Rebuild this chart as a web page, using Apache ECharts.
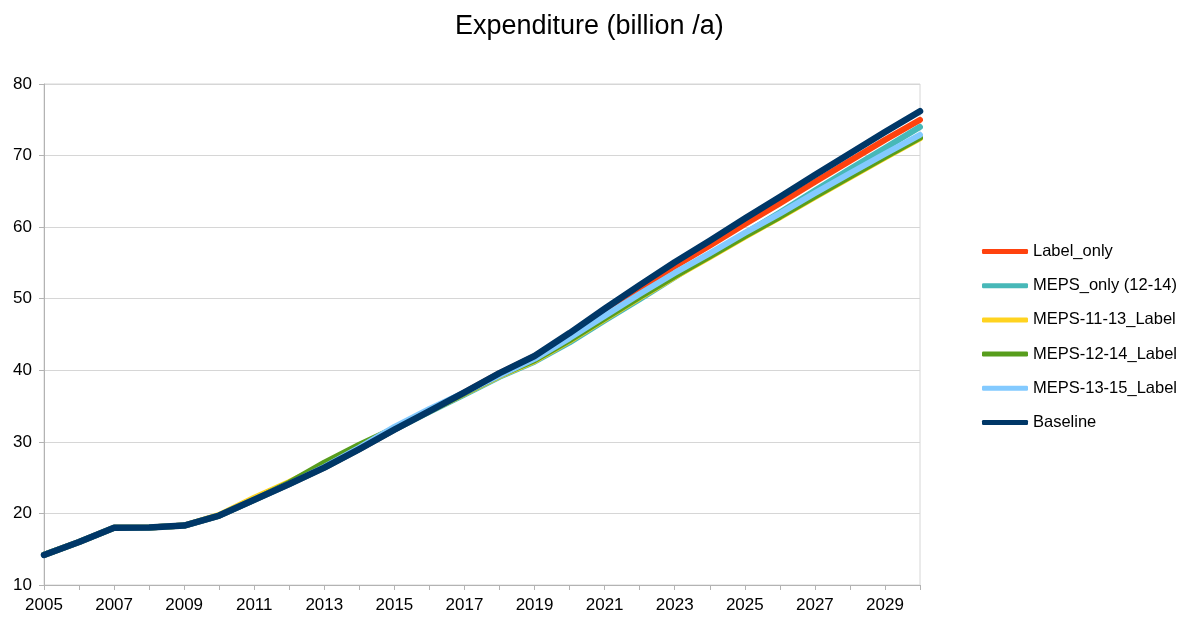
<!DOCTYPE html>
<html>
<head>
<meta charset="utf-8">
<script src="https://cdn.jsdelivr.net/npm/echarts@6/dist/echarts.min.js"></script>
<style>
  html, body { margin: 0; padding: 0; background: #fff; }
  #chart { width: 1184px; height: 619px; }
</style>
</head>
<body>
<div id="chart"></div>
<script>
// Years on the horizontal axis
const years = [2005, 2006, 2007, 2008, 2009, 2010, 2011, 2012, 2013, 2014, 2015, 2016, 2017,
               2018, 2019, 2020, 2021, 2022, 2023, 2024, 2025, 2026, 2027, 2028, 2029, 2030];

// Expenditure per scenario, billion per year
const labelOnly = [14.2, 16.0, 18.0, 18.05, 18.3, 19.7, 21.9, 24.1, 26.4, 29.0, 31.7, 34.3, 36.9,
                   39.6, 41.95, 45.05, 48.3, 51.45, 54.5, 57.4, 60.4, 63.3, 66.3, 69.25, 72.2, 75.0];
const mepsOnly = [14.2, 16.0, 18.0, 18.05, 18.3, 19.7, 21.9, 24.1, 26.4, 29.0, 31.7, 34.2, 36.6,
                  39.1, 41.2, 43.9, 46.95, 49.95, 53.0, 56.1, 59.1, 62.05, 65.1, 68.1, 71.05, 74.0];
const meps1113 = [14.2, 16.0, 18.0, 18.05, 18.3, 19.8, 22.2, 24.4, 26.8, 29.3, 31.8, 34.3, 36.75,
                  39.2, 41.3, 44.1, 47.15, 50.15, 53.05, 55.8, 58.65, 61.35, 64.2, 66.95, 69.7, 72.4];
const meps1214 = [14.2, 16.0, 18.0, 18.05, 18.3, 19.7, 21.9, 24.3, 27.1, 29.6, 31.9, 34.3, 36.8,
                  39.3, 41.4, 44.2, 47.25, 50.25, 53.15, 55.9, 58.75, 61.45, 64.3, 67.05, 69.8, 72.5];
const meps1315 = [14.2, 16.0, 18.0, 18.05, 18.3, 19.7, 21.9, 24.1, 26.5, 29.2, 32.1, 34.6, 36.9,
                  39.3, 41.6, 44.5, 47.6, 50.65, 53.6, 56.35, 59.2, 61.9, 64.75, 67.5, 70.25, 72.9];
const baseline = [14.2, 16.0, 18.0, 18.05, 18.3, 19.7, 21.9, 24.1, 26.4, 29.0, 31.7, 34.3, 36.9,
                  39.6, 42.0, 45.2, 48.6, 51.9, 55.1, 58.1, 61.2, 64.2, 67.3, 70.3, 73.3, 76.2];

// Value-axis ticks
const yTicks = [10, 20, 30, 40, 50, 60, 70, 80];

const scenarios = [
  { name: 'Label_only', values: labelOnly, color: '#ff420e', width: 6 },
  { name: 'MEPS_only (12-14)', values: mepsOnly, color: '#47b8b8', width: 6 },
  { name: 'MEPS-11-13_Label', values: meps1113, color: '#ffd320', width: 6 },
  { name: 'MEPS-12-14_Label', values: meps1214, color: '#579d1c', width: 6 },
  { name: 'MEPS-13-15_Label', values: meps1315, color: '#83caff', width: 6 },
  { name: 'Baseline', values: baseline, color: '#003767', width: 6.5 }
];

const font = 'Liberation Sans, Arial, sans-serif';
const chart = echarts.init(document.getElementById('chart'), null, { renderer: 'canvas' });

chart.setOption({
  backgroundColor: '#ffffff',
  animation: false,
  title: {
    text: 'Expenditure (billion /a)',
    left: 450,
    top: 8,
    textStyle: { fontFamily: font, fontSize: 27, fontWeight: 'normal', color: '#000' }
  },
  legend: {
    orient: 'vertical',
    left: 982,
    top: 243,
    padding: 0,
    itemWidth: 46,
    itemHeight: 5,
    itemGap: 17.2,
    icon: 'roundRect',
    textStyle: { fontFamily: font, fontSize: 16.5, color: '#000', lineHeight: 16 },
    data: scenarios.map(s => s.name)
  },
  grid: {
    left: 44, right: 264, top: 84, bottom: 34,
    show: true, borderColor: '#d6d6d6', borderWidth: 1, containLabel: false
  },
  xAxis: {
    type: 'value',
    min: years[0],
    max: years[years.length - 1],
    interval: 1,
    axisLine: { lineStyle: { color: '#b3b3b3', width: 1 } },
    axisTick: { show: true, length: 5, lineStyle: { color: '#b3b3b3' } },
    splitLine: { show: false },
    axisLabel: {
      fontFamily: font, fontSize: 17, color: '#000', margin: 12,
      formatter: v => (v % 2 === 1 ? String(v) : '')
    }
  },
  yAxis: {
    type: 'value',
    min: yTicks[0],
    max: yTicks[yTicks.length - 1],
    interval: 10,
    axisLine: { show: true, lineStyle: { color: '#b3b3b3', width: 1 } },
    axisTick: { show: true, length: 5, lineStyle: { color: '#b3b3b3' } },
    splitLine: { lineStyle: { color: '#d6d6d6', width: 1 } },
    axisLabel: { fontFamily: font, fontSize: 17, color: '#000', margin: 12 }
  },
  series: scenarios.map(s => ({
    name: s.name,
    type: 'line',
    symbol: 'none',
    smooth: false,
    color: s.color,
    lineStyle: { color: s.color, width: s.width, cap: 'round', join: 'round' },
    itemStyle: { color: s.color },
    data: years.map((y, i) => [y, s.values[i]])
  }))
});
</script>
</body>
</html>
